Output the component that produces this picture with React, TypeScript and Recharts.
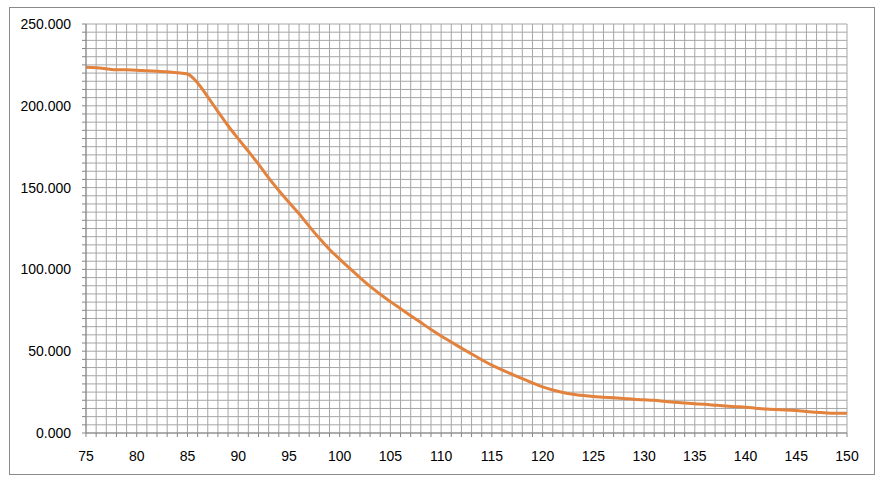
import React from "react";
import { LineChart, Line, XAxis, YAxis, CartesianGrid } from "recharts";

const xValues = [
  75, 76, 77, 78, 79, 80, 81, 82, 83, 84, 85, 86, 87, 88, 89, 90, 91, 92, 93, 94,
  95, 96, 97, 98, 99, 100, 101, 102, 103, 104, 105, 106, 107, 108, 109, 110, 111,
  112, 113, 114, 115, 116, 117, 118, 119, 120, 121, 122, 123, 124, 125, 126, 127,
  128, 129, 130, 131, 132, 133, 134, 135, 136, 137, 138, 139, 140, 141, 142, 143,
  144, 145, 146, 147, 148, 149, 150,
];

const yValues = [
  223500, 223300, 222700, 222000, 222000, 221800, 221400, 221100, 220800, 220200,
  219400, 214000, 205500, 196500, 187800, 179900, 172200, 164300, 155900, 148200,
  141000, 134000, 126300, 119000, 112200, 106300, 100600, 95000, 89600, 84800,
  80300, 76000, 71700, 67500, 63300, 59300, 55600, 51900, 48300, 44800, 41500,
  38600, 35900, 33200, 30600, 28200, 26300, 24800, 23700, 22900, 22300, 21900,
  21500, 21100, 20600, 20300, 20000, 19400, 18800, 18300, 17900, 17500, 17000,
  16500, 16100, 15800, 15200, 14600, 14300, 14100, 13700, 13100, 12700, 12200,
  12000, 12000,
];

// tick labels shown on the axes
const xLabels = [75, 80, 85, 90, 95, 100, 105, 110, 115, 120, 125, 130, 135, 140, 145, 150];
const yLabels = [0, 50000, 100000, 150000, 200000, 250000];

// grid / tick positions: every 1 on x, every 5000 on y
const xTicks = xValues;
const yTicks = Array.from({ length: 51 }, (_, i) => i * 5000);

const data = xValues.map((x, i) => ({ x, value: yValues[i] }));

const FONT = "'Liberation Sans', Arial, sans-serif";

const XTick = (props: any) => {
  const { x, y, payload } = props;
  if (!xLabels.includes(payload.value)) return null;
  return (
    <text x={x} y={y + 22} textAnchor="middle" fontSize={14} fill="#000" fontFamily={FONT}>
      {payload.value}
    </text>
  );
};

const YTick = (props: any) => {
  const { x, y, payload } = props;
  if (!yLabels.includes(payload.value)) return null;
  return (
    <text x={x} y={y + 5} textAnchor="end" fontSize={14} fill="#000" fontFamily={FONT}>
      {(payload.value / 1000).toFixed(3)}
    </text>
  );
};

export default function App() {
  return (
    <div
      style={{
        position: "fixed",
        left: 0,
        top: 0,
        width: 881,
        height: 483,
        background: "#fff",
      }}
    >
      <div
        style={{
          position: "absolute",
          left: 9,
          top: 7,
          width: 864,
          height: 466,
          border: "1px solid #8a8a8a",
        }}
      />
      <div style={{ position: "absolute", left: 0, top: 0 }}>
        <LineChart
          width={881}
          height={483}
          data={data}
          margin={{ top: 24, right: 34, bottom: 20, left: 0 }}
        >
          <CartesianGrid stroke="#a6a6a6" strokeWidth={1} />
          <XAxis
            dataKey="x"
            type="number"
            domain={[75, 150]}
            ticks={xTicks}
            interval={0}
            height={30}
            tickSize={4}
            stroke="#868686"
            tick={<XTick />}
            allowDecimals={false}
          />
          <YAxis
            type="number"
            domain={[0, 250000]}
            ticks={yTicks}
            interval={0}
            width={86}
            tickSize={4}
            tickMargin={11}
            stroke="#868686"
            tick={<YTick />}
          />
          <Line
            type="monotone"
            dataKey="value"
            stroke="#e2823c"
            strokeWidth={3}
            dot={false}
            isAnimationActive={false}
          />
        </LineChart>
      </div>
    </div>
  );
}
